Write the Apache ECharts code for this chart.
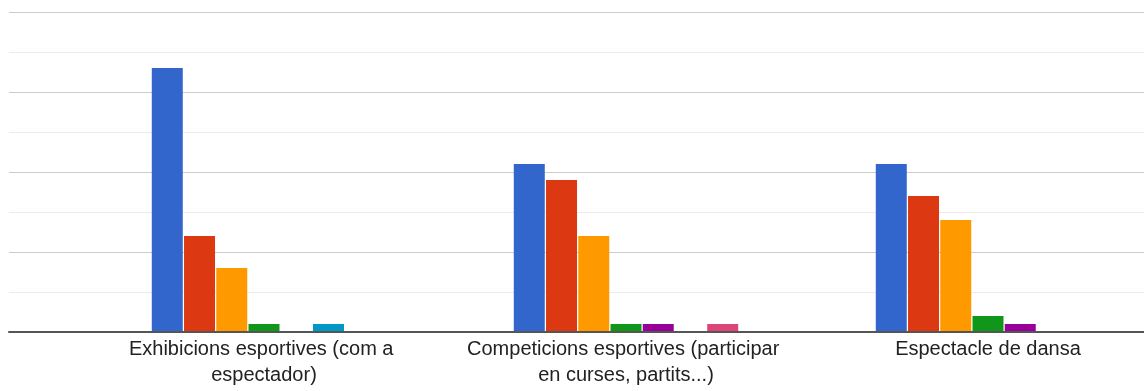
<!DOCTYPE html>
<html>
<head>
<meta charset="utf-8">
<script src="https://cdn.jsdelivr.net/npm/echarts@6/dist/echarts.min.js"></script>
<style>
  html, body { margin: 0; padding: 0; background: #fff; overflow: hidden; }
  /* chart area runs past the right edge of the window, as in the reference */
  #chart { width: 1169px; height: 391px; }
</style>
</head>
<body>
<div id="chart"></div>
<script>
// categories and values
const categories = [
  'Exhibicions esportives (com a espectador)',
  'Competicions esportives (participar en curses, partits...)',
  'Espectacle de dansa',
];
const seriesNames = ['1', '2', '3', '4', '5', '6', '7'];
const s1 = [33, 21, 21];
const s2 = [12, 19, 17];
const s3 = [8, 12, 14];
const s4 = [1, 1, 2];
const s5 = [0, 1, 1];
const s6 = [1, 0, 0];
const s7 = [0, 1, 0];
const seriesData = [s1, s2, s3, s4, s5, s6, s7];

const colors = ['#3366cc', '#dc3912', '#ff9900', '#109618', '#990099', '#0099c6', '#dd4477'];

const chart = echarts.init(document.getElementById('chart'));

const option = {
  animation: false,
  color: colors,
  textStyle: { fontFamily: '"Liberation Sans", Arial, sans-serif' },
  grid: [
    // background grid: gridlines and baseline only
    { left: 9, right: 0, top: 12, bottom: 59 },
    // bars
    { left: 83, right: 0, top: 12, bottom: 59 },
  ],
  xAxis: [
    {
      gridIndex: 0,
      type: 'value',
      min: 0,
      max: 1,
      z: 10,
      axisLine: { show: true, lineStyle: { color: '#555', width: 2 } },
      axisTick: { show: false },
      axisLabel: { show: false },
      splitLine: { show: false },
    },
    {
      gridIndex: 1,
      type: 'category',
      data: categories,
      axisLine: { show: false },
      axisTick: { show: false },
      axisLabel: {
        interval: 0,
        margin: 4,
        color: '#222',
        fontSize: 20,
        lineHeight: 26,
        width: 330,
        overflow: 'break',
      },
    },
  ],
  yAxis: [
    {
      gridIndex: 0,
      type: 'value',
      min: 0,
      max: 40,
      interval: 10,
      axisLine: { show: false },
      axisTick: { show: false },
      axisLabel: { show: false },
      splitLine: { show: true, lineStyle: { color: '#cccccc', width: 1 } },
      minorTick: { show: false, splitNumber: 2 },
      minorSplitLine: { show: true, lineStyle: { color: '#ebebeb', width: 1 } },
    },
    {
      gridIndex: 1,
      type: 'value',
      min: 0,
      max: 40,
      interval: 10,
      show: false,
      splitLine: { show: false },
    },
  ],
  series: seriesData.map((d, i) => ({
    name: seriesNames[i],
    type: 'bar',
    xAxisIndex: 1,
    yAxisIndex: 1,
    data: d,
    barWidth: 31,
    barGap: '4%',
    itemStyle: { color: colors[i] },
  })),
};

chart.setOption(option);
</script>
</body>
</html>
